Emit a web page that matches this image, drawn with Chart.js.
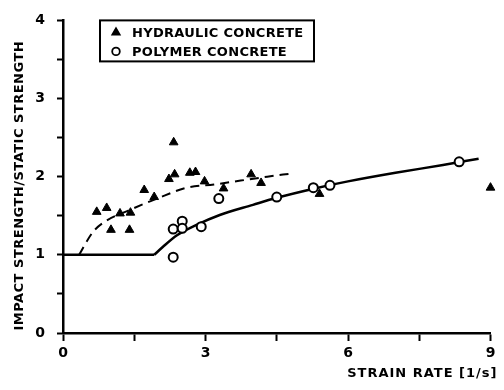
<!DOCTYPE html>
<html>
<head>
<meta charset="utf-8">
<script src="https://cdn.jsdelivr.net/npm/chart.js@4.4.1/dist/chart.umd.min.js"></script>
<style>
  html, body { margin: 0; padding: 0; background: #fff; }
</style>
</head>
<body>
<canvas id="grafica" width="504" height="390"></canvas>
<script>
// datos
const hydraulicX = [0.71, 0.92, 1.01, 1.20, 1.40, 1.42, 1.71, 1.92, 2.23, 2.33, 2.35, 2.67, 2.79, 2.98, 3.38, 3.96, 4.17, 5.40, 9.00]
const hydraulicY = [1.55, 1.60, 1.32, 1.53, 1.32, 1.54, 1.83, 1.74, 1.97, 2.44, 2.03, 2.05, 2.06, 1.94, 1.85, 2.03, 1.92, 1.78, 1.86]

const polymerX = [2.32, 2.32, 2.51, 2.51, 2.91, 3.28, 4.50, 5.27, 5.62, 8.34]
const polymerY = [0.97, 1.33, 1.43, 1.34, 1.36, 1.72, 1.74, 1.86, 1.89, 2.19]

const dashedX = [0.34, 0.45, 0.64, 0.92, 1.35, 1.98, 2.61, 3.18, 3.74, 4.30, 4.80]
const dashedY = [1.00, 1.12, 1.30, 1.44, 1.56, 1.72, 1.86, 1.90, 1.95, 2.00, 2.04]

const flatX = [0, 1.92]
const flatY = [1.00, 1.00]

const solidX = [1.92, 2.10, 2.40, 2.80, 3.30, 4.00, 4.50, 5.30, 6.00, 7.00, 8.00, 8.75]
const solidY = [1.00, 1.10, 1.25, 1.38, 1.51, 1.64, 1.73, 1.85, 1.94, 2.05, 2.15, 2.23]

const xTicks = [0, 3, 6, 9]
const yTicks = [0, 1, 2, 3, 4]

const legendLabels = ['HYDRAULIC CONCRETE', 'POLYMER CONCRETE']
const xTitle = 'STRAIN RATE [1/s]'
const yTitle = 'IMPACT STRENGTH/STATIC STRENGTH'

const fuente = '"DejaVu Sans", sans-serif'

let toPoints = (xs, ys) => xs.map((x, i) => ({ x: x, y: ys[i] }))

// leyenda y titulos dibujados a mano
const extras = {
    id: 'extras',
    afterDraw(chart) {
        const ctx = chart.ctx
        const area = chart.chartArea
        ctx.save()
        // caja de leyenda
        const bx = area.left + 37, by = area.top, bw = 214, bh = 41
        ctx.strokeStyle = '#000'
        ctx.lineWidth = 2
        ctx.strokeRect(bx, by, bw, bh)
        ctx.fillStyle = '#000'
        ctx.font = 'bold 13px ' + fuente
        ctx.textBaseline = 'middle'
        ctx.textAlign = 'left'
        const filas = [by + 12, by + 31]
        Chart.helpers.drawPoint(ctx, { pointStyle: 'triangle', radius: 4, borderWidth: 1 }, bx + 16, filas[0])
        ctx.fill()
        ctx.lineWidth = 1.8
        ctx.fillStyle = '#fff'
        Chart.helpers.drawPoint(ctx, { pointStyle: 'circle', radius: 3.8, borderWidth: 1.8 }, bx + 16, filas[1])
        ctx.fillStyle = '#000'
        ctx.letterSpacing = '0.3px'
        legendLabels.forEach((t, i) => ctx.fillText(t, bx + 32, filas[i] + 1))

        // titulo eje x
        ctx.letterSpacing = '1px'
        ctx.textAlign = 'right'
        ctx.fillText(xTitle, area.right + 7, 374)

        // titulo eje y
        ctx.letterSpacing = '0.5px'
        ctx.translate(20, (area.top + area.bottom) / 2 + 9)
        ctx.rotate(-Math.PI / 2)
        ctx.textAlign = 'center'
        ctx.fillText(yTitle, 0, 0)
        ctx.restore()
    }
}

const grafica = new Chart(document.getElementById('grafica'), {
    type: 'scatter',
    data: {
        datasets: [
            {
                label: legendLabels[0],
                data: toPoints(hydraulicX, hydraulicY),
                pointStyle: 'triangle',
                pointRadius: 5,
                backgroundColor: '#000',
                borderColor: '#000',
                borderWidth: 1,
                clip: false
            },
            {
                label: legendLabels[1],
                data: toPoints(polymerX, polymerY),
                pointStyle: 'circle',
                pointRadius: 4.5,
                backgroundColor: '#fff',
                borderColor: '#000',
                borderWidth: 2,
                clip: false
            },
            {
                data: toPoints(dashedX, dashedY),
                showLine: true,
                pointRadius: 0,
                borderColor: '#000',
                borderWidth: 2,
                borderDash: [9, 6],
                cubicInterpolationMode: 'monotone'
            },
            {
                data: toPoints(flatX, flatY),
                showLine: true,
                pointRadius: 0,
                borderColor: '#000',
                borderWidth: 2.5
            },
            {
                data: toPoints(solidX, solidY),
                showLine: true,
                pointRadius: 0,
                borderColor: '#000',
                borderWidth: 2.5,
                cubicInterpolationMode: 'monotone'
            }
        ]
    },
    options: {
        responsive: false,
        animation: false,
        devicePixelRatio: 1,
        layout: { padding: { top: 11, right: 13.5, left: 0, bottom: 0 } },
        plugins: { legend: { display: false }, tooltip: { enabled: false } },
        scales: {
            x: {
                type: 'linear',
                min: 0,
                max: 9,
                afterFit: (s) => { s.height = 57 },
                ticks: {
                    stepSize: 1.5,
                    autoSkip: false,
                    maxRotation: 0,
                    padding: 4,
                    color: '#000',
                    font: { family: fuente, size: 14, weight: 'bold' },
                    callback: (v) => xTicks.includes(v) ? v : ''
                },
                grid: { drawOnChartArea: false, tickLength: 8, tickWidth: 2, tickColor: '#000' },
                border: { color: '#000', width: 2.5 }
            },
            y: {
                type: 'linear',
                min: 0,
                max: 4,
                afterFit: (s) => { s.width = 63 },
                ticks: {
                    stepSize: 0.5,
                    autoSkip: false,
                    padding: 12,
                    color: '#000',
                    font: { family: fuente, size: 14, weight: 'bold' },
                    callback: (v) => yTicks.includes(v) ? v : ''
                },
                grid: { drawOnChartArea: false, tickLength: 6, tickWidth: 2, tickColor: '#000' },
                border: { color: '#000', width: 2.5 }
            }
        }
    },
    plugins: [extras]
})
</script>
</body>
</html>
